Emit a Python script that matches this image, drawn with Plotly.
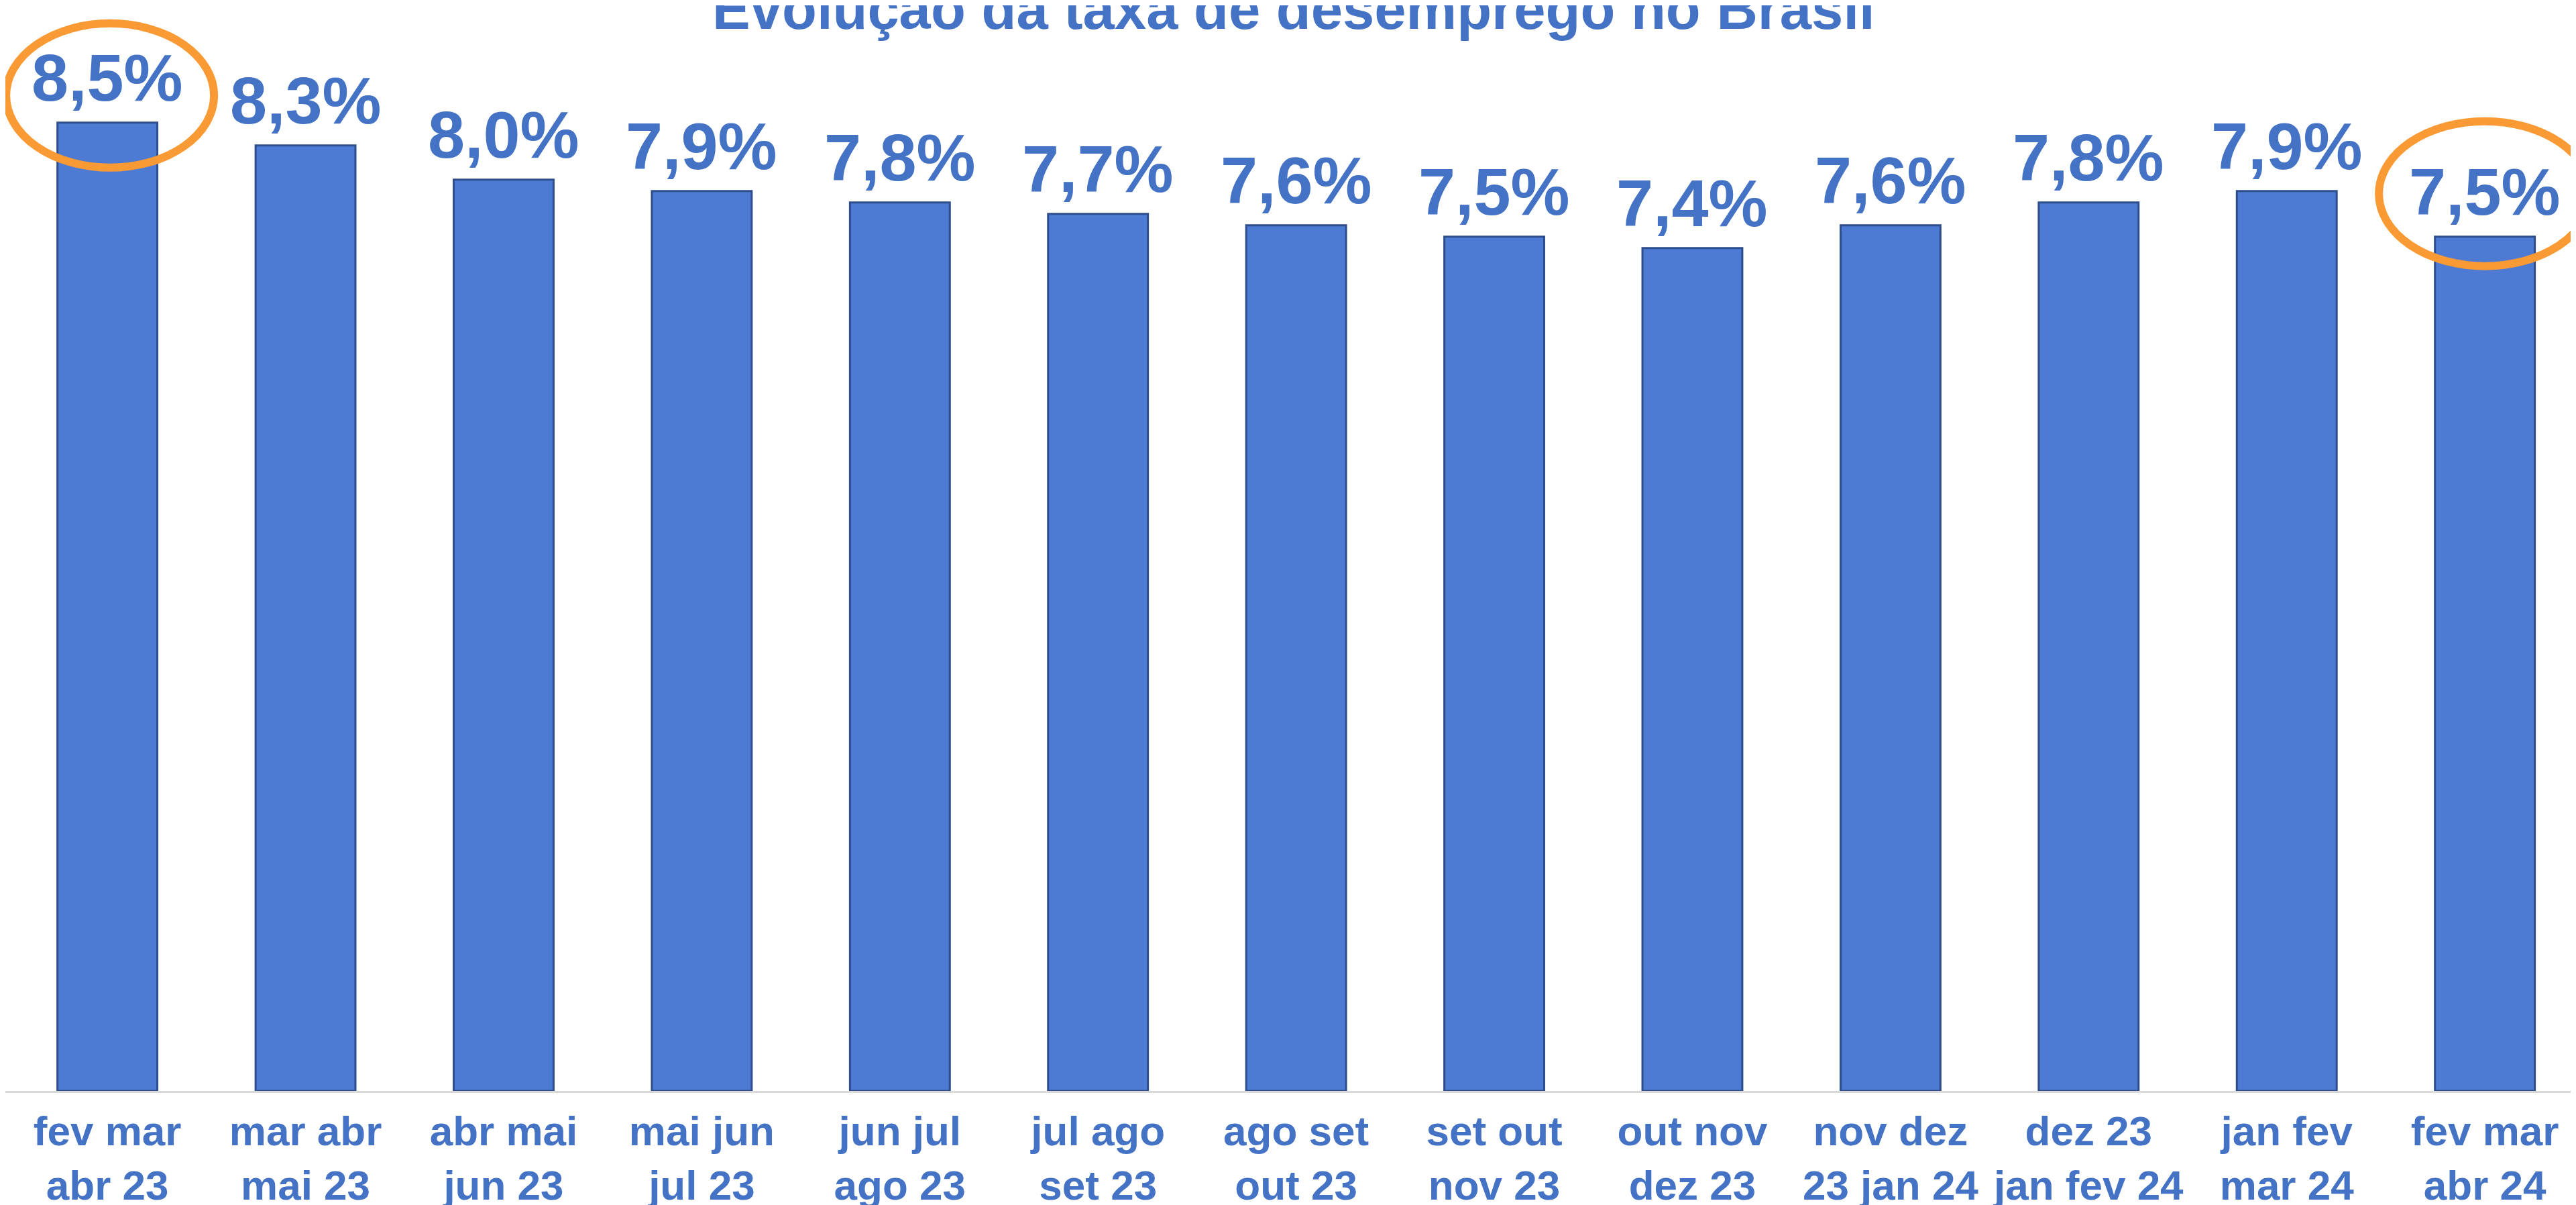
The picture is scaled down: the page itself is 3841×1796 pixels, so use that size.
import plotly.graph_objects as go

# ---- data ----
periods = [
    "fev mar<br>abr 23", "mar abr<br>mai 23", "abr mai<br>jun 23", "mai jun<br>jul 23",
    "jun jul<br>ago 23", "jul ago<br>set 23", "ago set<br>out 23", "set out<br>nov 23",
    "out nov<br>dez 23", "nov dez<br>23 jan 24", "dez 23<br>jan fev 24", "jan fev<br>mar 24",
    "fev mar<br>abr 24",
]
unemployment_rate = [8.5, 8.3, 8.0, 7.9, 7.8, 7.7, 7.6, 7.5, 7.4, 7.6, 7.8, 7.9, 7.5]
highlighted = [0, 12]  # indices circled in orange
title_text = "Evolução da taxa de desemprego no Brasil"

# ---- style ----
BLUE_TEXT = "#4472C4"
BAR_FILL = "#4D7AD2"
BAR_EDGE = "#2E4D8C"
ORANGE = "#FA9A34"
FONT = "Liberation Sans, Arial, sans-serif"
# pixel geometry of each highlight ellipse relative to its bar top (x0, x1, y0, y1)
ellipse_px = {0: (-151, 159, -67, 148), 12: (-158, 158, -44, 172)}

fig = go.Figure()
fig.add_trace(go.Bar(
    x=periods,
    y=unemployment_rate,
    marker=dict(color=BAR_FILL, line=dict(color=BAR_EDGE, width=3)),
    cliponaxis=False,
    hoverinfo="skip",
))

# value labels above each bar
for cat, val in zip(periods, unemployment_rate):
    fig.add_annotation(
        x=cat, y=val, xref="x", yref="y",
        text=f"{val:.1f}%".replace(".", ","),
        showarrow=False, xanchor="center", yanchor="bottom", yshift=10,
        font=dict(family=FONT, size=99, color=BLUE_TEXT, weight="bold"),
    )

for i in highlighted:
    x0, x1, y0, y1 = ellipse_px[i]
    fig.add_shape(
        type="circle", xref="x", yref="y",
        xsizemode="pixel", ysizemode="pixel",
        xanchor=i, yanchor=unemployment_rate[i],
        x0=x0, x1=x1, y0=y0, y1=y1,
        line=dict(color=ORANGE, width=12),
        fillcolor="rgba(0,0,0,0)",
        layer="above",
    )

fig.add_annotation(
    text=title_text, xref="paper", yref="paper", x=0.5, y=1,
    xanchor="center", yanchor="bottom", yshift=-55, showarrow=False,
    font=dict(family=FONT, size=85, color=BLUE_TEXT, weight="bold"),
)

fig.update_layout(
    width=3841, height=1796,
    margin=dict(l=0, r=0, t=0, b=178),
    paper_bgcolor="white", plot_bgcolor="white",
    separators=",.",
    bargap=0.496,
    showlegend=False,
    xaxis=dict(
        type="category",
        range=[-0.515, 12.487],
        showline=True, linecolor="#D9D9D9", linewidth=3,
        showgrid=False, ticks="",
        tickfont=dict(family=FONT, size=62, color=BLUE_TEXT, weight="bold"),
        ticklabelstandoff=4,
        automargin=False,
        fixedrange=True,
    ),
    yaxis=dict(
        range=[0, 9.53], visible=False, showgrid=False, zeroline=False,
        automargin=False, fixedrange=True,
    ),
)

fig.write_html("out.html")
